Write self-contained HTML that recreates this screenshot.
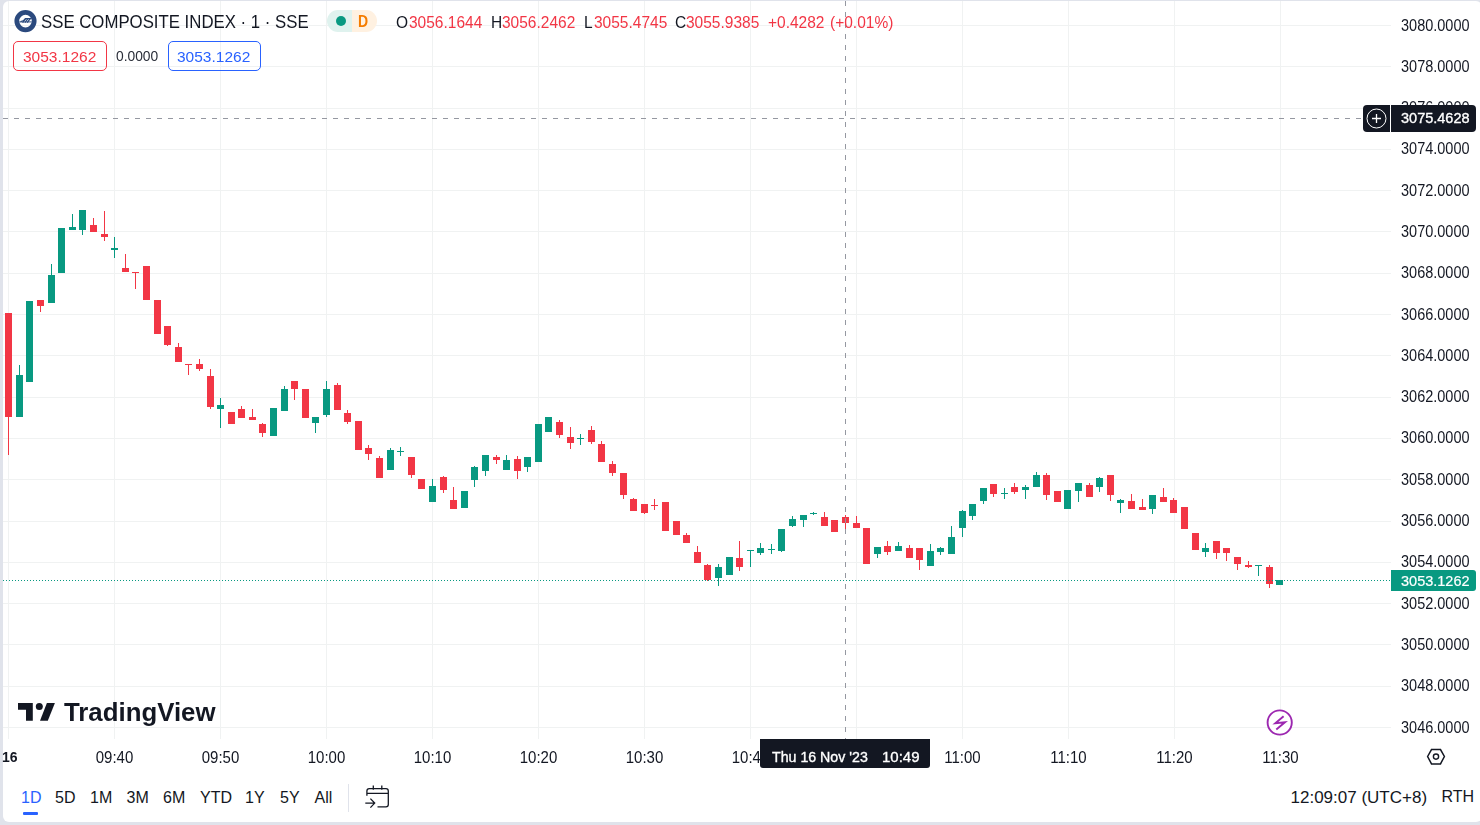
<!DOCTYPE html>
<html><head><meta charset="utf-8"><style>
*{margin:0;padding:0;box-sizing:border-box}
html,body{width:1480px;height:825px;overflow:hidden;background:#e0e3eb;font-family:"Liberation Sans",sans-serif}
#panel{position:absolute;left:3px;top:1px;width:1479px;height:821px;background:#fff;border-radius:6px;overflow:hidden}
svg{position:absolute;left:0;top:0}
.t{position:absolute;white-space:pre;line-height:1;will-change:transform}
.box{position:absolute;height:30px;border:1px solid;border-radius:5px}
.tc{position:absolute;width:81px;text-align:center;font-size:15px;line-height:1;color:#131722;white-space:pre;will-change:transform;transform:scaleY(1.08);transform-origin:0 0}
</style></head><body>
<div id="panel"></div>
<svg width="1480" height="825" viewBox="0 0 1480 825" shape-rendering="crispEdges">
<rect x="3" y="25" width="1388" height="1" fill="#f0f2f2"/>
<rect x="3" y="66" width="1388" height="1" fill="#f0f2f2"/>
<rect x="3" y="108" width="1388" height="1" fill="#f0f2f2"/>
<rect x="3" y="149" width="1388" height="1" fill="#f0f2f2"/>
<rect x="3" y="190" width="1388" height="1" fill="#f0f2f2"/>
<rect x="3" y="231" width="1388" height="1" fill="#f0f2f2"/>
<rect x="3" y="273" width="1388" height="1" fill="#f0f2f2"/>
<rect x="3" y="314" width="1388" height="1" fill="#f0f2f2"/>
<rect x="3" y="355" width="1388" height="1" fill="#f0f2f2"/>
<rect x="3" y="397" width="1388" height="1" fill="#f0f2f2"/>
<rect x="3" y="438" width="1388" height="1" fill="#f0f2f2"/>
<rect x="3" y="479" width="1388" height="1" fill="#f0f2f2"/>
<rect x="3" y="521" width="1388" height="1" fill="#f0f2f2"/>
<rect x="3" y="562" width="1388" height="1" fill="#f0f2f2"/>
<rect x="3" y="603" width="1388" height="1" fill="#f0f2f2"/>
<rect x="3" y="644" width="1388" height="1" fill="#f0f2f2"/>
<rect x="3" y="686" width="1388" height="1" fill="#f0f2f2"/>
<rect x="3" y="727" width="1388" height="1" fill="#f0f2f2"/>
<rect x="8" y="1" width="1" height="738" fill="#f0f2f2"/>
<rect x="114" y="1" width="1" height="738" fill="#f0f2f2"/>
<rect x="220" y="1" width="1" height="738" fill="#f0f2f2"/>
<rect x="326" y="1" width="1" height="738" fill="#f0f2f2"/>
<rect x="432" y="1" width="1" height="738" fill="#f0f2f2"/>
<rect x="538" y="1" width="1" height="738" fill="#f0f2f2"/>
<rect x="644" y="1" width="1" height="738" fill="#f0f2f2"/>
<rect x="750" y="1" width="1" height="738" fill="#f0f2f2"/>
<rect x="856" y="1" width="1" height="738" fill="#f0f2f2"/>
<rect x="962" y="1" width="1" height="738" fill="#f0f2f2"/>
<rect x="1068" y="1" width="1" height="738" fill="#f0f2f2"/>
<rect x="1174" y="1" width="1" height="738" fill="#f0f2f2"/>
<rect x="1280" y="1" width="1" height="738" fill="#f0f2f2"/>
<rect x="8" y="313" width="1" height="142" fill="#f23645"/>
<rect x="5" y="313" width="7" height="104" fill="#f23645"/>
<rect x="19" y="365" width="1" height="52" fill="#089981"/>
<rect x="16" y="375" width="7" height="42" fill="#089981"/>
<rect x="26" y="301" width="7" height="81" fill="#089981"/>
<rect x="40" y="300" width="1" height="12" fill="#f23645"/>
<rect x="37" y="300" width="7" height="6" fill="#f23645"/>
<rect x="51" y="264" width="1" height="39" fill="#089981"/>
<rect x="48" y="275" width="7" height="28" fill="#089981"/>
<rect x="58" y="228" width="7" height="45" fill="#089981"/>
<rect x="72" y="214" width="1" height="16" fill="#089981"/>
<rect x="69" y="227" width="7" height="3" fill="#089981"/>
<rect x="82" y="210" width="1" height="25" fill="#089981"/>
<rect x="79" y="210" width="7" height="20" fill="#089981"/>
<rect x="93" y="218" width="1" height="14" fill="#f23645"/>
<rect x="90" y="225" width="7" height="7" fill="#f23645"/>
<rect x="104" y="211" width="1" height="30" fill="#f23645"/>
<rect x="101" y="234" width="7" height="3" fill="#f23645"/>
<rect x="114" y="237" width="1" height="21" fill="#089981"/>
<rect x="111" y="248" width="7" height="2" fill="#089981"/>
<rect x="125" y="254" width="1" height="18" fill="#f23645"/>
<rect x="122" y="268" width="7" height="4" fill="#f23645"/>
<rect x="135" y="272" width="1" height="17" fill="#f23645"/>
<rect x="132" y="272" width="7" height="1" fill="#f23645"/>
<rect x="143" y="266" width="7" height="34" fill="#f23645"/>
<rect x="154" y="300" width="7" height="34" fill="#f23645"/>
<rect x="167" y="326" width="1" height="20" fill="#f23645"/>
<rect x="164" y="326" width="7" height="19" fill="#f23645"/>
<rect x="178" y="343" width="1" height="19" fill="#f23645"/>
<rect x="175" y="347" width="7" height="15" fill="#f23645"/>
<rect x="188" y="364" width="1" height="11" fill="#f23645"/>
<rect x="185" y="364" width="7" height="1" fill="#f23645"/>
<rect x="199" y="359" width="1" height="12" fill="#f23645"/>
<rect x="196" y="364" width="7" height="5" fill="#f23645"/>
<rect x="210" y="369" width="1" height="40" fill="#f23645"/>
<rect x="207" y="376" width="7" height="31" fill="#f23645"/>
<rect x="220" y="398" width="1" height="30" fill="#089981"/>
<rect x="217" y="405" width="7" height="4" fill="#089981"/>
<rect x="228" y="412" width="7" height="12" fill="#f23645"/>
<rect x="241" y="406" width="1" height="12" fill="#f23645"/>
<rect x="238" y="409" width="7" height="9" fill="#f23645"/>
<rect x="252" y="409" width="1" height="11" fill="#f23645"/>
<rect x="249" y="417" width="7" height="3" fill="#f23645"/>
<rect x="262" y="423" width="1" height="14" fill="#f23645"/>
<rect x="259" y="424" width="7" height="9" fill="#f23645"/>
<rect x="270" y="408" width="7" height="28" fill="#089981"/>
<rect x="284" y="386" width="1" height="25" fill="#089981"/>
<rect x="281" y="389" width="7" height="22" fill="#089981"/>
<rect x="294" y="381" width="1" height="19" fill="#f23645"/>
<rect x="291" y="381" width="7" height="8" fill="#f23645"/>
<rect x="302" y="389" width="7" height="29" fill="#f23645"/>
<rect x="315" y="417" width="1" height="16" fill="#089981"/>
<rect x="312" y="417" width="7" height="6" fill="#089981"/>
<rect x="326" y="381" width="1" height="36" fill="#089981"/>
<rect x="323" y="389" width="7" height="26" fill="#089981"/>
<rect x="337" y="383" width="1" height="27" fill="#f23645"/>
<rect x="334" y="385" width="7" height="25" fill="#f23645"/>
<rect x="347" y="410" width="1" height="14" fill="#f23645"/>
<rect x="344" y="413" width="7" height="9" fill="#f23645"/>
<rect x="355" y="421" width="7" height="29" fill="#f23645"/>
<rect x="368" y="445" width="1" height="15" fill="#f23645"/>
<rect x="365" y="448" width="7" height="6" fill="#f23645"/>
<rect x="379" y="456" width="1" height="22" fill="#f23645"/>
<rect x="376" y="458" width="7" height="20" fill="#f23645"/>
<rect x="390" y="448" width="1" height="22" fill="#089981"/>
<rect x="387" y="450" width="7" height="20" fill="#089981"/>
<rect x="400" y="447" width="1" height="9" fill="#089981"/>
<rect x="397" y="451" width="7" height="1" fill="#089981"/>
<rect x="411" y="457" width="1" height="21" fill="#f23645"/>
<rect x="408" y="457" width="7" height="18" fill="#f23645"/>
<rect x="418" y="479" width="7" height="10" fill="#f23645"/>
<rect x="432" y="479" width="1" height="23" fill="#089981"/>
<rect x="429" y="486" width="7" height="16" fill="#089981"/>
<rect x="443" y="476" width="1" height="17" fill="#f23645"/>
<rect x="440" y="477" width="7" height="13" fill="#f23645"/>
<rect x="453" y="487" width="1" height="22" fill="#f23645"/>
<rect x="450" y="500" width="7" height="9" fill="#f23645"/>
<rect x="461" y="491" width="7" height="17" fill="#089981"/>
<rect x="474" y="466" width="1" height="21" fill="#089981"/>
<rect x="471" y="467" width="7" height="13" fill="#089981"/>
<rect x="485" y="455" width="1" height="21" fill="#089981"/>
<rect x="482" y="455" width="7" height="16" fill="#089981"/>
<rect x="496" y="455" width="1" height="9" fill="#f23645"/>
<rect x="493" y="457" width="7" height="3" fill="#f23645"/>
<rect x="506" y="455" width="1" height="15" fill="#089981"/>
<rect x="503" y="460" width="7" height="10" fill="#089981"/>
<rect x="517" y="456" width="1" height="23" fill="#f23645"/>
<rect x="514" y="459" width="7" height="12" fill="#f23645"/>
<rect x="527" y="457" width="1" height="15" fill="#089981"/>
<rect x="524" y="457" width="7" height="10" fill="#089981"/>
<rect x="535" y="424" width="7" height="38" fill="#089981"/>
<rect x="545" y="417" width="7" height="15" fill="#089981"/>
<rect x="559" y="420" width="1" height="18" fill="#f23645"/>
<rect x="556" y="422" width="7" height="13" fill="#f23645"/>
<rect x="570" y="427" width="1" height="22" fill="#f23645"/>
<rect x="567" y="437" width="7" height="6" fill="#f23645"/>
<rect x="580" y="434" width="1" height="11" fill="#089981"/>
<rect x="577" y="438" width="7" height="1" fill="#089981"/>
<rect x="591" y="426" width="1" height="18" fill="#f23645"/>
<rect x="588" y="430" width="7" height="12" fill="#f23645"/>
<rect x="601" y="441" width="1" height="21" fill="#f23645"/>
<rect x="598" y="444" width="7" height="18" fill="#f23645"/>
<rect x="612" y="461" width="1" height="15" fill="#f23645"/>
<rect x="609" y="464" width="7" height="9" fill="#f23645"/>
<rect x="623" y="473" width="1" height="26" fill="#f23645"/>
<rect x="620" y="473" width="7" height="22" fill="#f23645"/>
<rect x="633" y="498" width="1" height="13" fill="#f23645"/>
<rect x="630" y="499" width="7" height="12" fill="#f23645"/>
<rect x="644" y="504" width="1" height="10" fill="#f23645"/>
<rect x="641" y="504" width="7" height="9" fill="#f23645"/>
<rect x="654" y="499" width="1" height="11" fill="#f23645"/>
<rect x="651" y="505" width="7" height="1" fill="#f23645"/>
<rect x="662" y="502" width="7" height="29" fill="#f23645"/>
<rect x="673" y="521" width="7" height="14" fill="#f23645"/>
<rect x="686" y="533" width="1" height="10" fill="#f23645"/>
<rect x="683" y="535" width="7" height="8" fill="#f23645"/>
<rect x="697" y="546" width="1" height="17" fill="#f23645"/>
<rect x="694" y="552" width="7" height="11" fill="#f23645"/>
<rect x="707" y="564" width="1" height="17" fill="#f23645"/>
<rect x="704" y="565" width="7" height="15" fill="#f23645"/>
<rect x="718" y="564" width="1" height="22" fill="#089981"/>
<rect x="715" y="567" width="7" height="11" fill="#089981"/>
<rect x="726" y="557" width="7" height="18" fill="#089981"/>
<rect x="739" y="541" width="1" height="30" fill="#f23645"/>
<rect x="736" y="558" width="7" height="9" fill="#f23645"/>
<rect x="750" y="550" width="1" height="17" fill="#089981"/>
<rect x="747" y="550" width="7" height="1" fill="#089981"/>
<rect x="760" y="543" width="1" height="12" fill="#089981"/>
<rect x="757" y="548" width="7" height="5" fill="#089981"/>
<rect x="771" y="544" width="1" height="10" fill="#089981"/>
<rect x="768" y="549" width="7" height="1" fill="#089981"/>
<rect x="781" y="529" width="1" height="23" fill="#089981"/>
<rect x="778" y="529" width="7" height="22" fill="#089981"/>
<rect x="792" y="516" width="1" height="11" fill="#089981"/>
<rect x="789" y="519" width="7" height="7" fill="#089981"/>
<rect x="803" y="515" width="1" height="12" fill="#089981"/>
<rect x="800" y="515" width="7" height="5" fill="#089981"/>
<rect x="813" y="512" width="1" height="3" fill="#089981"/>
<rect x="810" y="513" width="7" height="1" fill="#089981"/>
<rect x="824" y="512" width="1" height="14" fill="#f23645"/>
<rect x="821" y="517" width="7" height="9" fill="#f23645"/>
<rect x="831" y="520" width="7" height="12" fill="#f23645"/>
<rect x="845" y="515" width="1" height="14" fill="#f23645"/>
<rect x="842" y="517" width="7" height="6" fill="#f23645"/>
<rect x="856" y="516" width="1" height="12" fill="#f23645"/>
<rect x="853" y="523" width="7" height="5" fill="#f23645"/>
<rect x="863" y="528" width="7" height="36" fill="#f23645"/>
<rect x="877" y="547" width="1" height="11" fill="#089981"/>
<rect x="874" y="547" width="7" height="7" fill="#089981"/>
<rect x="887" y="541" width="1" height="14" fill="#f23645"/>
<rect x="884" y="546" width="7" height="6" fill="#f23645"/>
<rect x="898" y="542" width="1" height="9" fill="#089981"/>
<rect x="895" y="546" width="7" height="5" fill="#089981"/>
<rect x="909" y="545" width="1" height="13" fill="#f23645"/>
<rect x="906" y="548" width="7" height="10" fill="#f23645"/>
<rect x="919" y="548" width="1" height="22" fill="#f23645"/>
<rect x="916" y="548" width="7" height="12" fill="#f23645"/>
<rect x="930" y="544" width="1" height="22" fill="#089981"/>
<rect x="927" y="551" width="7" height="15" fill="#089981"/>
<rect x="940" y="547" width="1" height="8" fill="#089981"/>
<rect x="937" y="548" width="7" height="4" fill="#089981"/>
<rect x="951" y="526" width="1" height="28" fill="#089981"/>
<rect x="948" y="537" width="7" height="17" fill="#089981"/>
<rect x="962" y="510" width="1" height="27" fill="#089981"/>
<rect x="959" y="511" width="7" height="17" fill="#089981"/>
<rect x="972" y="504" width="1" height="16" fill="#089981"/>
<rect x="969" y="504" width="7" height="12" fill="#089981"/>
<rect x="983" y="488" width="1" height="16" fill="#089981"/>
<rect x="980" y="488" width="7" height="13" fill="#089981"/>
<rect x="993" y="484" width="1" height="13" fill="#f23645"/>
<rect x="990" y="484" width="7" height="10" fill="#f23645"/>
<rect x="1004" y="488" width="1" height="11" fill="#089981"/>
<rect x="1001" y="493" width="7" height="1" fill="#089981"/>
<rect x="1014" y="483" width="1" height="11" fill="#f23645"/>
<rect x="1011" y="487" width="7" height="5" fill="#f23645"/>
<rect x="1025" y="485" width="1" height="14" fill="#089981"/>
<rect x="1022" y="487" width="7" height="3" fill="#089981"/>
<rect x="1036" y="472" width="1" height="15" fill="#089981"/>
<rect x="1033" y="475" width="7" height="12" fill="#089981"/>
<rect x="1046" y="473" width="1" height="27" fill="#f23645"/>
<rect x="1043" y="475" width="7" height="20" fill="#f23645"/>
<rect x="1054" y="491" width="7" height="11" fill="#f23645"/>
<rect x="1064" y="490" width="7" height="19" fill="#089981"/>
<rect x="1078" y="483" width="1" height="19" fill="#089981"/>
<rect x="1075" y="483" width="7" height="8" fill="#089981"/>
<rect x="1089" y="483" width="1" height="14" fill="#f23645"/>
<rect x="1086" y="485" width="7" height="12" fill="#f23645"/>
<rect x="1099" y="477" width="1" height="15" fill="#089981"/>
<rect x="1096" y="478" width="7" height="9" fill="#089981"/>
<rect x="1110" y="475" width="1" height="26" fill="#f23645"/>
<rect x="1107" y="475" width="7" height="20" fill="#f23645"/>
<rect x="1120" y="499" width="1" height="14" fill="#089981"/>
<rect x="1117" y="500" width="7" height="3" fill="#089981"/>
<rect x="1131" y="494" width="1" height="15" fill="#f23645"/>
<rect x="1128" y="501" width="7" height="8" fill="#f23645"/>
<rect x="1142" y="499" width="1" height="11" fill="#f23645"/>
<rect x="1139" y="507" width="7" height="3" fill="#f23645"/>
<rect x="1152" y="495" width="1" height="19" fill="#089981"/>
<rect x="1149" y="495" width="7" height="14" fill="#089981"/>
<rect x="1163" y="488" width="1" height="14" fill="#f23645"/>
<rect x="1160" y="497" width="7" height="5" fill="#f23645"/>
<rect x="1173" y="498" width="1" height="15" fill="#f23645"/>
<rect x="1170" y="500" width="7" height="13" fill="#f23645"/>
<rect x="1181" y="507" width="7" height="22" fill="#f23645"/>
<rect x="1192" y="533" width="7" height="17" fill="#f23645"/>
<rect x="1205" y="543" width="1" height="14" fill="#089981"/>
<rect x="1202" y="548" width="7" height="4" fill="#089981"/>
<rect x="1216" y="541" width="1" height="18" fill="#f23645"/>
<rect x="1213" y="541" width="7" height="12" fill="#f23645"/>
<rect x="1226" y="548" width="1" height="13" fill="#f23645"/>
<rect x="1223" y="548" width="7" height="5" fill="#f23645"/>
<rect x="1237" y="557" width="1" height="13" fill="#f23645"/>
<rect x="1234" y="557" width="7" height="7" fill="#f23645"/>
<rect x="1248" y="561" width="1" height="7" fill="#f23645"/>
<rect x="1245" y="565" width="7" height="2" fill="#f23645"/>
<rect x="1258" y="565" width="1" height="11" fill="#089981"/>
<rect x="1255" y="565" width="7" height="1" fill="#089981"/>
<rect x="1269" y="565" width="1" height="23" fill="#f23645"/>
<rect x="1266" y="567" width="7" height="17" fill="#f23645"/>
<rect x="1276" y="580" width="7" height="5" fill="#089981"/>
<line x1="3" y1="580.5" x2="1391" y2="580.5" stroke="#089981" stroke-width="1" stroke-dasharray="1 2"/>
<line x1="3" y1="118.5" x2="1363" y2="118.5" stroke="#9598a1" stroke-width="1" stroke-dasharray="5 6"/>
<line x1="845.5" y1="1" x2="845.5" y2="739" stroke="#9598a1" stroke-width="1" stroke-dasharray="5 6"/>
</svg>
<div class="box" style="left:13px;top:41px;width:94px;border-color:#f23645"></div>
<div class="box" style="left:168px;top:41px;width:93px;border-color:#2962ff"></div>
<div style="position:absolute;left:1391px;top:570px;width:85px;height:21px;background:#089981;border-radius:0 3px 3px 0"></div>
<div style="position:absolute;left:23px;top:812px;width:15px;height:3px;background:#2962ff;border-radius:1px"></div>
<div style="position:absolute;left:348px;top:784px;width:1px;height:28px;background:#e0e3eb"></div>

<svg width="1480" height="825" viewBox="0 0 1480 825" style="position:absolute;left:0;top:0">
<!-- SSE logo -->
<circle cx="25.5" cy="21.1" r="8.7" fill="none" stroke="#2b4a7e" stroke-width="4.75"/>
<rect x="19.3" y="21" width="12.5" height="1.7" fill="#2b4a7e" opacity="0.55"/>
<path d="M20.5 21.6 Q23.5 21.4 25.5 18.6 H31.5" stroke="#2b4a7e" stroke-width="1.1" fill="none"/>
<path d="M22.6 22.6 L25.6 18.6 M24.9 22.6 L27.9 18.6 M27.2 22.6 L30.2 18.6" stroke="#2b4a7e" stroke-width="1.3" fill="none"/>
<!-- pill -->
<path d="M338 10 H352 V32 H338 A11 11 0 0 1 338 10 Z" fill="#dff2ee"/>
<path d="M352 10 H366 A11 11 0 0 1 366 32 H352 Z" fill="#fff1e1"/>
<circle cx="341" cy="21" r="5" fill="#089981"/>
<!-- TV logo -->
<path d="M18 703 H32.8 V720.8 H26 V709.8 H18 Z" fill="#131722"/>
<circle cx="39.3" cy="706.5" r="3.5" fill="#131722"/>
<path d="M46.9 703 H54.9 L47.8 720.8 H40 Z" fill="#131722"/>
<!-- lightning circle -->
<circle cx="1279.7" cy="722.5" r="12.1" fill="#fff" stroke="#9c27b0" stroke-width="1.9"/>
<path d="M1283.6 716.2 L1275.3 723.2 L1285 722.3 L1276.3 729.5" fill="none" stroke="#9c27b0" stroke-width="1.9" stroke-linejoin="miter"/>
<!-- settings hex -->
<path d="M1427.6 756.5 L1431.5 749.6 H1440.5 L1444.4 756.5 L1440.5 763.9 H1431.5 Z" fill="none" stroke="#131722" stroke-width="1.5"/>
<circle cx="1436" cy="756.6" r="2.6" fill="none" stroke="#131722" stroke-width="1.4"/>
<!-- calendar -->
<path d="M366.9 795.8 V791 Q366.9 788.6 369.3 788.6 H386 Q388.3 788.6 388.3 791 V804.4 Q388.3 806.8 386 806.8 H377.5 M366.9 793.3 H388.3 M373.3 785.5 V789.7 M381.8 785.5 V789.7 M365.3 803.1 H374.5 M370.4 798.6 L374.7 803.1 L370.4 807.6" fill="none" stroke="#131722" stroke-width="1.3"/>
</svg>

<div class="t" style="left:1401px;top:17.5px;font-size:14.5px;color:#131722;font-weight:400;transform:scaleY(1.1);transform-origin:0 0;">3080.0000</div>
<div class="t" style="left:1401px;top:58.8px;font-size:14.5px;color:#131722;font-weight:400;transform:scaleY(1.1);transform-origin:0 0;">3078.0000</div>
<div class="t" style="left:1401px;top:100.1px;font-size:14.5px;color:#131722;font-weight:400;transform:scaleY(1.1);transform-origin:0 0;">3076.0000</div>
<div class="t" style="left:1401px;top:141.4px;font-size:14.5px;color:#131722;font-weight:400;transform:scaleY(1.1);transform-origin:0 0;">3074.0000</div>
<div class="t" style="left:1401px;top:182.7px;font-size:14.5px;color:#131722;font-weight:400;transform:scaleY(1.1);transform-origin:0 0;">3072.0000</div>
<div class="t" style="left:1401px;top:224.0px;font-size:14.5px;color:#131722;font-weight:400;transform:scaleY(1.1);transform-origin:0 0;">3070.0000</div>
<div class="t" style="left:1401px;top:265.3px;font-size:14.5px;color:#131722;font-weight:400;transform:scaleY(1.1);transform-origin:0 0;">3068.0000</div>
<div class="t" style="left:1401px;top:306.6px;font-size:14.5px;color:#131722;font-weight:400;transform:scaleY(1.1);transform-origin:0 0;">3066.0000</div>
<div class="t" style="left:1401px;top:347.9px;font-size:14.5px;color:#131722;font-weight:400;transform:scaleY(1.1);transform-origin:0 0;">3064.0000</div>
<div class="t" style="left:1401px;top:389.1px;font-size:14.5px;color:#131722;font-weight:400;transform:scaleY(1.1);transform-origin:0 0;">3062.0000</div>
<div class="t" style="left:1401px;top:430.4px;font-size:14.5px;color:#131722;font-weight:400;transform:scaleY(1.1);transform-origin:0 0;">3060.0000</div>
<div class="t" style="left:1401px;top:471.7px;font-size:14.5px;color:#131722;font-weight:400;transform:scaleY(1.1);transform-origin:0 0;">3058.0000</div>
<div class="t" style="left:1401px;top:513.0px;font-size:14.5px;color:#131722;font-weight:400;transform:scaleY(1.1);transform-origin:0 0;">3056.0000</div>
<div class="t" style="left:1401px;top:554.3px;font-size:14.5px;color:#131722;font-weight:400;transform:scaleY(1.1);transform-origin:0 0;">3054.0000</div>
<div class="t" style="left:1401px;top:595.6px;font-size:14.5px;color:#131722;font-weight:400;transform:scaleY(1.1);transform-origin:0 0;">3052.0000</div>
<div class="t" style="left:1401px;top:636.9px;font-size:14.5px;color:#131722;font-weight:400;transform:scaleY(1.1);transform-origin:0 0;">3050.0000</div>
<div class="t" style="left:1401px;top:678.2px;font-size:14.5px;color:#131722;font-weight:400;transform:scaleY(1.1);transform-origin:0 0;">3048.0000</div>
<div class="t" style="left:1401px;top:719.5px;font-size:14.5px;color:#131722;font-weight:400;transform:scaleY(1.1);transform-origin:0 0;">3046.0000</div>
<div class="t" style="left:2.3px;top:749.5px;font-size:14px;color:#131722;font-weight:700;">16</div>
<div class="t" style="left:41px;top:13.1px;font-size:16.8px;color:#131722;font-weight:400;transform:scaleY(1.14);transform-origin:0 0;">SSE COMPOSITE INDEX · 1 · SSE</div>
<div class="t" style="left:357.6px;top:12.6px;font-size:14px;color:#f57c00;font-weight:700;transform:scaleY(1.18);transform-origin:0 0;">D</div>
<div class="t" style="left:396px;top:13.5px;font-size:15.5px;color:#131722;font-weight:400;transform:scaleY(1.08);transform-origin:0 0;">O</div>
<div class="t" style="left:409px;top:13.5px;font-size:15.5px;color:#f23645;font-weight:400;transform:scaleY(1.08);transform-origin:0 0;">3056.1644</div>
<div class="t" style="left:490.5px;top:13.5px;font-size:15.5px;color:#131722;font-weight:400;transform:scaleY(1.08);transform-origin:0 0;">H</div>
<div class="t" style="left:502.2px;top:13.5px;font-size:15.5px;color:#f23645;font-weight:400;transform:scaleY(1.08);transform-origin:0 0;">3056.2462</div>
<div class="t" style="left:583.8px;top:13.5px;font-size:15.5px;color:#131722;font-weight:400;transform:scaleY(1.08);transform-origin:0 0;">L</div>
<div class="t" style="left:593.7px;top:13.5px;font-size:15.5px;color:#f23645;font-weight:400;transform:scaleY(1.08);transform-origin:0 0;">3055.4745</div>
<div class="t" style="left:674.8px;top:13.5px;font-size:15.5px;color:#131722;font-weight:400;transform:scaleY(1.08);transform-origin:0 0;">C</div>
<div class="t" style="left:685.6px;top:13.5px;font-size:15.5px;color:#f23645;font-weight:400;transform:scaleY(1.08);transform-origin:0 0;">3055.9385</div>
<div class="t" style="left:767.6px;top:13.5px;font-size:15.5px;color:#f23645;font-weight:400;transform:scaleY(1.08);transform-origin:0 0;">+0.4282</div>
<div class="t" style="left:829.8px;top:13.5px;font-size:15.5px;color:#f23645;font-weight:400;transform:scaleY(1.08);transform-origin:0 0;">(+0.01%)</div>
<div class="t" style="left:22.5px;top:49px;font-size:15.5px;color:#f23645;font-weight:400;">3053.1262</div>
<div class="t" style="left:116px;top:49.5px;font-size:13.8px;color:#2a2e39;font-weight:400;">0.0000</div>
<div class="t" style="left:177px;top:49px;font-size:15.5px;color:#2962ff;font-weight:400;">3053.1262</div>
<div class="t" style="left:1401px;top:573.5px;font-size:14.5px;color:#fff;font-weight:400;-webkit-text-stroke:0.2px #fff">3053.1262</div>
<div class="t" style="left:63.8px;top:700.3px;font-size:25.8px;color:#131722;font-weight:700;">TradingView</div>
<div class="t" style="left:21px;top:790.3px;font-size:16px;color:#2962ff;font-weight:400;will-change:auto">1D</div>
<div class="t" style="left:55.0px;top:790.3px;font-size:16px;color:#131722;font-weight:400;will-change:auto">5D</div>
<div class="t" style="left:90.0px;top:790.3px;font-size:16px;color:#131722;font-weight:400;will-change:auto">1M</div>
<div class="t" style="left:126.5px;top:790.3px;font-size:16px;color:#131722;font-weight:400;will-change:auto">3M</div>
<div class="t" style="left:163.0px;top:790.3px;font-size:16px;color:#131722;font-weight:400;will-change:auto">6M</div>
<div class="t" style="left:200.0px;top:790.3px;font-size:16px;color:#131722;font-weight:400;will-change:auto">YTD</div>
<div class="t" style="left:245.0px;top:790.3px;font-size:16px;color:#131722;font-weight:400;will-change:auto">1Y</div>
<div class="t" style="left:280.0px;top:790.3px;font-size:16px;color:#131722;font-weight:400;will-change:auto">5Y</div>
<div class="t" style="left:314.5px;top:790.3px;font-size:16px;color:#131722;font-weight:400;will-change:auto">All</div>
<div class="t" style="left:1290.5px;top:788.5px;font-size:17px;color:#131722;font-weight:400;will-change:auto">12:09:07 (UTC+8)</div>
<div class="t" style="left:1441.5px;top:788.8px;font-size:16px;color:#131722;font-weight:400;will-change:auto">RTH</div>
<div class="tc" style="left:74px;top:748.7px;">09:40</div>
<div class="tc" style="left:180px;top:748.7px;">09:50</div>
<div class="tc" style="left:286px;top:748.7px;">10:00</div>
<div class="tc" style="left:392px;top:748.7px;">10:10</div>
<div class="tc" style="left:498px;top:748.7px;">10:20</div>
<div class="tc" style="left:604px;top:748.7px;">10:30</div>
<div class="tc" style="left:710px;top:748.7px;">10:40</div>
<div class="tc" style="left:922px;top:748.7px;">11:00</div>
<div class="tc" style="left:1028px;top:748.7px;">11:10</div>
<div class="tc" style="left:1134px;top:748.7px;">11:20</div>
<div class="tc" style="left:1240px;top:748.7px;">11:30</div>
<div style="position:absolute;left:1363px;top:105px;width:27px;height:27px;background:#131722;border-radius:4px 0 0 4px"></div>
<div style="position:absolute;left:1391px;top:105px;width:85px;height:27px;background:#131722;border-radius:0 4px 4px 0"></div>
<div class="t" style="left:1401px;top:111px;font-size:14.5px;color:#fff;font-weight:400;-webkit-text-stroke:0.35px #fff">3075.4628</div>
<div style="position:absolute;left:760px;top:739px;width:170px;height:29px;background:#131722;border-radius:0 0 3px 3px"></div>
<div class="t" style="left:771.5px;top:750px;font-size:14.2px;color:#fff;font-weight:400;-webkit-text-stroke:0.35px #fff">Thu 16 Nov '23</div>
<div class="t" style="left:882px;top:749px;font-size:15px;color:#fff;font-weight:400;-webkit-text-stroke:0.35px #fff">10:49</div>
<svg width="1480" height="825" style="position:absolute;left:0;top:0"><!-- crosshair plus circle --><circle cx="1376.5" cy="118.5" r="9.5" fill="none" stroke="#fff" stroke-width="1"/><path d="M1376.5 114 V123 M1372 118.5 H1381" stroke="#fff" stroke-width="1.3"/></svg>
</body></html>
